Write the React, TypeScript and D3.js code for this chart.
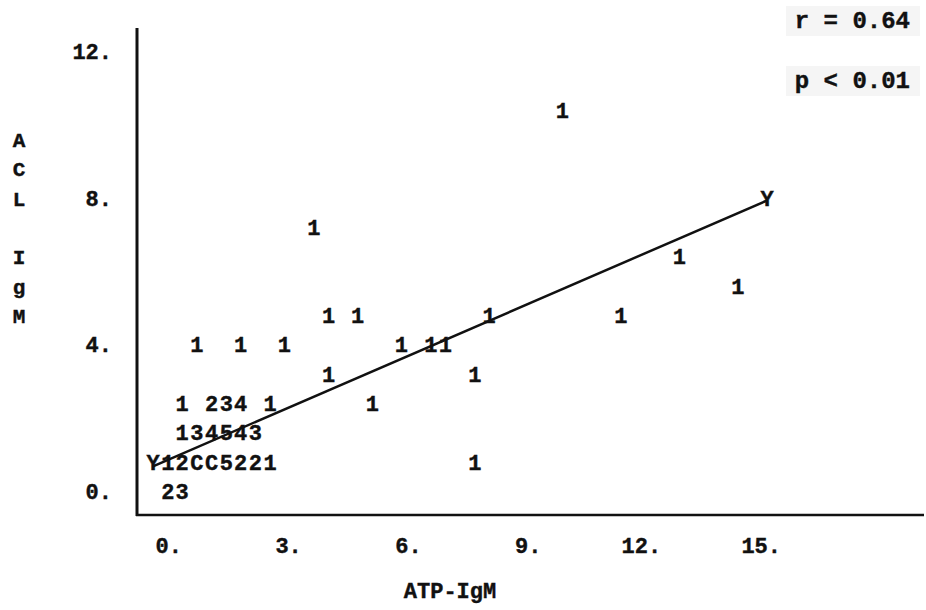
import { useEffect, useRef } from 'react'
import * as d3 from 'd3'

// plotted symbols (line printer style), x = ATP-IgM, y = ACL IgM
const symbolX = [
  0.36, 0.71,
  0, 0.36, 0.71, 1.07, 1.43, 1.79, 2.14, 2.5, 2.86, 7.86,
  0.71, 1.07, 1.43, 1.79, 2.14, 2.5,
  0.71, 1.43, 1.79, 2.14, 2.86, 5.36,
  4.29, 7.86,
  1.07, 2.14, 3.21, 6.07, 6.79, 7.14,
  4.29, 5.0, 8.21, 11.43,
  14.29,
  12.86,
  3.93,
  15.0,
  10.0
]
const symbolY = [
  0, 0,
  0.8, 0.8, 0.8, 0.8, 0.8, 0.8, 0.8, 0.8, 0.8, 0.8,
  1.6, 1.6, 1.6, 1.6, 1.6, 1.6,
  2.4, 2.4, 2.4, 2.4, 2.4, 2.4,
  3.2, 3.2,
  4.0, 4.0, 4.0, 4.0, 4.0, 4.0,
  4.8, 4.8, 4.8, 4.8,
  5.6,
  6.4,
  7.2,
  8.0,
  10.4
]
const symbolChar = [
  '2', '3',
  'Y', '1', '2', 'C', 'C', '5', '2', '2', '1', '1',
  '1', '3', '4', '5', '4', '3',
  '1', '2', '3', '4', '1', '1',
  '1', '1',
  '1', '1', '1', '1', '1', '1',
  '1', '1', '1', '1',
  '1',
  '1',
  '1',
  'Y',
  '1'
]

// fitted regression line end points
const fitX = [0, 15]
const fitY = [0.7, 7.95]

const xTicks = [0, 3, 6, 9, 12, 15]
const yTicks = [0, 4, 8, 12]
const yTitleLetters = ['A', 'C', 'L', 'I', 'g', 'M']
const yTitleRows = [9.6, 8.8, 8.0, 6.4, 5.6, 4.8]
const statsText = ['r = 0.64', 'p < 0.01']

const FONT = "'Liberation Mono', 'DejaVu Sans Mono', monospace"

export default function App() {
  const svgRef = useRef<SVGSVGElement>(null)

  useEffect(() => {
    if (!svgRef.current) return
    const svg = d3.select(svgRef.current)
    svg.selectAll('*').remove()

    const width = 926
    const height = 610

    svg.attr('width', width).attr('height', height)

    svg.append('rect')
      .attr('width', width)
      .attr('height', height)
      .attr('fill', 'white')

    const x = d3.scaleLinear().domain([0, 15]).range([153, 767])
    const y = d3.scaleLinear().domain([0, 12]).range([492, 52])
    // the printer's label line runs on a slightly tighter pitch than the plot columns
    const xLabel = d3.scaleLinear().domain([0, 15]).range([182, 781])

    const ink = '#111'
    const addText = (sel: any, size: number) => sel
      .style('font-family', FONT)
      .style('font-weight', 'bold')
      .style('font-size', `${size}px`)
      .attr('fill', ink)
      .attr('stroke', ink)
      .attr('stroke-width', 0.4)

    // axis frame
    svg.append('line')
      .attr('x1', 137).attr('x2', 137)
      .attr('y1', 28).attr('y2', 516)
      .attr('stroke', ink)
      .attr('stroke-width', 3)

    svg.append('line')
      .attr('x1', 136).attr('x2', 924)
      .attr('y1', 515).attr('y2', 515)
      .attr('stroke', ink)
      .attr('stroke-width', 2.5)

    // regression line
    const line = d3.line<number>()
      .x((_, i) => x(fitX[i]))
      .y((d) => y(d))
    svg.append('path')
      .datum(fitY)
      .attr('d', line)
      .attr('fill', 'none')
      .attr('stroke', ink)
      .attr('stroke-width', 2.5)

    // symbols
    addText(svg.append('g')
      .selectAll('text')
      .data(symbolChar)
      .enter().append('text')
      .attr('x', (_, i) => x(symbolX[i]))
      .attr('y', (_, i) => y(symbolY[i]) + 7)
      .attr('text-anchor', 'middle'), 22)
      .text((d: string) => d)

    // x tick labels
    addText(svg.append('g')
      .selectAll('text')
      .data(xTicks)
      .enter().append('text')
      .attr('x', d => xLabel(d))
      .attr('y', 553)
      .attr('text-anchor', 'end'), 22)
      .text((d: number) => `${d}.`)

    // y tick labels
    addText(svg.append('g')
      .selectAll('text')
      .data(yTicks)
      .enter().append('text')
      .attr('x', 112)
      .attr('y', d => y(d) + 7)
      .attr('text-anchor', 'end'), 22)
      .text((d: number) => `${d}.`)

    // y title, one letter per printer line
    addText(svg.append('g')
      .selectAll('text')
      .data(yTitleLetters)
      .enter().append('text')
      .attr('x', 19)
      .attr('y', (_, i) => y(yTitleRows[i]) + 7)
      .attr('text-anchor', 'middle'), 21)
      .text((d: string) => d)

    // x title
    addText(svg.append('text')
      .attr('x', 450)
      .attr('y', 598)
      .attr('text-anchor', 'middle'), 22)
      .text('ATP-IgM')

    // r / p box, top right
    const stats = svg.append('g')
    stats.selectAll('rect')
      .data(statsText)
      .enter().append('rect')
      .attr('x', 786)
      .attr('y', (_, i) => 6 + i * 60)
      .attr('width', 134)
      .attr('height', 30)
      .attr('fill', '#f5f5f5')
    addText(stats.selectAll('text')
      .data(statsText)
      .enter().append('text')
      .attr('x', 910)
      .attr('y', (_, i) => 28 + i * 60)
      .attr('text-anchor', 'end'), 24)
      .text((d: string) => d)
  }, [])

  return (
    <svg
      ref={svgRef}
      style={{ position: 'absolute', left: 0, top: 0, display: 'block' }}
    ></svg>
  )
}
